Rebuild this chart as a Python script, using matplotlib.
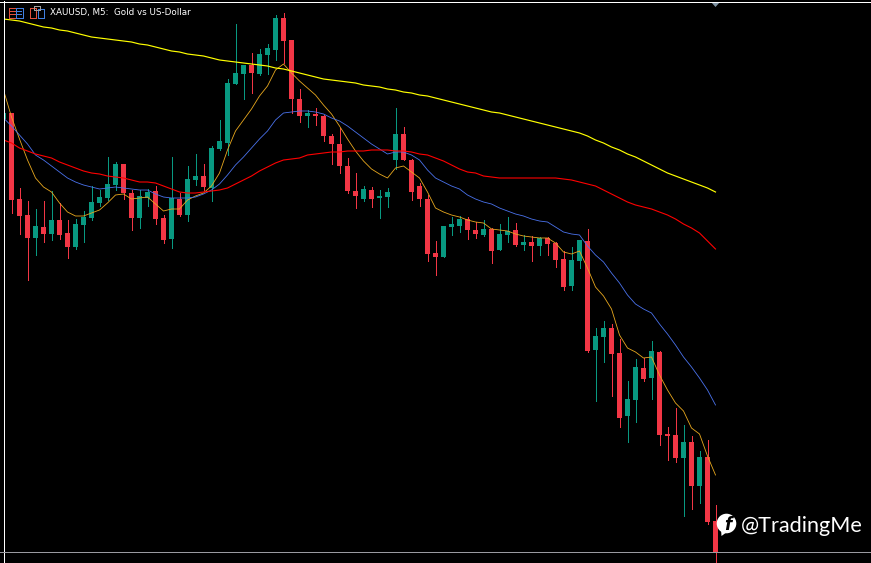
import matplotlib
matplotlib.use("Agg")
import matplotlib.pyplot as plt
from matplotlib.patches import Rectangle, Circle, Polygon
import numpy as np

W, H = 871, 563
# All series are levels on the chart's unlabeled price scale.
opens = [119,113,199,215,238,227,234,220,233,247,225,218,203,198,185,164,193,218,198,191,218,239,199,215,180,176,188,149,143,84,
         74,65,74,55,50,18,40,99,116,114,116,136,144,166,191,199,190,198,197,160,134,160,186,199,253,257,227,226,219,230,
         235,229,250,235,230,245,242,246,238,243,259,286,261,241,350,337,328,353,416,400,368,378,352,434,435,458,442,486,457,521]
closes = [113,200,216,238,226,234,220,235,247,224,217,202,197,184,164,193,218,196,192,219,240,198,215,179,176,187,148,141,83,73,
          65,73,54,48,18,41,99,116,113,116,136,144,166,191,196,189,199,196,192,134,160,192,199,254,257,226,224,219,230,234,
          229,251,234,231,245,242,246,238,244,260,287,260,240,351,336,328,354,418,399,367,379,351,435,436,458,442,486,457,522,552]
highs = [113,113,188,201,209,201,191,203,220,219,211,186,190,157,162,164,190,190,189,186,215,157,193,166,154,164,146,120,79,24,
         65,53,49,44,15,13,40,89,110,108,115,134,128,158,173,186,187,190,188,108,127,159,183,195,241,226,217,216,217,222,
         220,228,224,217,223,235,236,237,237,242,251,247,240,229,328,321,324,339,381,359,358,341,351,427,408,425,436,451,440,505]
lows = [120,213,234,280,255,242,240,239,258,249,242,220,206,200,190,199,230,228,206,224,243,248,216,221,185,190,201,150,155,84,
        99,93,75,74,60,63,113,122,127,125,141,164,173,193,208,201,207,218,207,169,160,200,206,261,275,257,235,232,239,238,
        236,263,250,242,246,250,261,255,255,267,290,290,268,352,401,362,396,427,442,422,381,399,445,460,462,516,509,503,524,563]

ma_fast = [90,117,139,160,178,187,192,203,212,216,216,213,210,203,195,194,199,198,197,204,211,209,209,200,196,193,186,173,150,131,
           120,109,96,86,70,64,73,81,88,95,105,114,126,139,151,161,169,174,178,168,166,172,178,192,208,212,215,217,220,222,
           223,229,230,231,234,236,237,238,238,243,252,254,251,268,287,296,309,335,348,352,358,357,375,390,403,411,428,434,456,475]
ma_mid = [118,126,135,144,155,160,166,172,178,182,185,187,189,188,187,188,189,190,190,194,197,198,198,198,197,194,190,184,175,165,
          157,148,139,131,120,113,112,111,111,112,114,118,121,126,132,138,144,149,154,152,152,155,160,170,178,182,186,189,195,199,
          202,204,208,211,214,216,219,221,222,227,232,234,235,246,255,262,273,283,295,304,309,313,324,334,345,357,367,378,390,405]
ma_slow = [140,143,148,151,154,156,158,162,165,168,171,173,174,176,177,178,180,182,182,183,186,189,192,193,193,192,191,190,188,184,
           180,176,171,167,163,160,159,158,155,154,153,152,152,151,151,151,150,150,150,151,151,152,154,155,158,161,165,169,172,173,
           176,177,178,178,178,178,178,178,178,178,179,180,182,184,186,190,194,198,202,205,207,209,212,215,219,224,228,233,241,249]
ma_long = [19,20,21,23,25,27,28,30,31,33,35,37,38,39,40,41,42,44,45,47,49,51,52,54,55,56,58,60,61,62,
           63,64,65,66,68,69,71,73,75,77,79,80,81,82,83,85,86,87,89,90,92,93,95,96,98,100,102,104,106,108,
           110,112,113,115,117,119,121,123,125,127,129,131,133,136,140,143,147,150,154,157,161,165,169,173,176,179,182,185,188,192]

title_text = "XAUUSD, M5:  Gold vs US-Dollar"
watermark = "@TradingMe"
BULL, BEAR = "#089981", "#F23645"

fig = plt.figure(figsize=(W/100, H/100), dpi=100, facecolor="black")
ax = fig.add_axes([0, 0, 1, 1], facecolor="black")
ax.set_xlim(-3.5/8, (W-3.5)/8)
ax.set_ylim(H, 0)
ax.axis("off")

idx = np.arange(len(opens))
o, c, hi, lo = map(np.array, (opens, closes, highs, lows))
col = [BULL if a > b else BEAR for a, b in zip(o, c)]

left_clip = Rectangle((-3.5/8+4/8, 0), (W-4)/8, H, transform=ax.transData)
vl = ax.vlines(idx, hi, lo, colors=col, linewidth=0.72, antialiased=False, zorder=2)
vl.set_clip_path(left_clip)
bars = ax.bar(idx, np.abs(o-c), bottom=np.minimum(o, c), width=5.5/8, color=col, linewidth=0, antialiased=False, zorder=3)
for b in bars:
    b.set_clip_path(left_clip)

for series, colour, lw in ((ma_fast, "#E8A81E", 0.6), (ma_mid, "#4A72EC", 0.6),
                           (ma_slow, "#FF0000", 0.8), (ma_long, "#FFFF00", 0.85)):
    ln, = ax.plot(idx, series, color=colour, linewidth=lw, zorder=4)
    ln.set_clip_path(left_clip)

# frame: white left and top, grey bottom price line, shift marker
T = fig.transFigure
def fx(x): return x / W
def fy(y): return 1 - y / H
def hline(x0, x1, y, colour, lw=0.5):
    fig.add_artist(plt.Line2D([fx(x0), fx(x1)], [fy(y), fy(y)], color=colour, lw=lw, antialiased=False))
fig.add_artist(plt.Line2D([fx(3.5), fx(3.5)], [fy(1), fy(H)], color="white", lw=0.5, antialiased=False))
hline(0, W, 1.5, "white")
hline(0, W, 551.5, "#9A9AA0")
fig.add_artist(Polygon([(fx(711), fy(2)), (fx(720), fy(2)), (fx(715.5), fy(7))], closed=True, color="#7F93A3", lw=0, transform=T))

# toolbar icons
def rect(x, y, w, h, ec, fc="none"):
    fig.add_artist(Rectangle((fx(x), fy(y+h)), w/W, h/H, transform=T, ec=ec, fc=fc, lw=0.5, antialiased=False))
rect(8.5, 7.5, 7, 10, "#E0503C"); rect(15.5, 7.5, 7, 10, "#3F7FE0")
for yy in (10.5, 13.5):
    hline(10, 15, yy, "#E0503C"); hline(16, 21, yy, "#3F7FE0")
rect(29.5, 8.5, 6, 9, "#E0503C"); rect(37.5, 9.5, 6, 8, "#3F7FE0"); rect(33.5, 6.5, 6, 3, "#A0A0A0")

fig.text(fx(49.5), fy(12.5), title_text, color="white", fontsize=6.35, family="DejaVu Sans", va="center", ha="left")

# watermark
icon = fig.add_axes([716/W, 1-537/H, 21/W, 24/H], facecolor="none")
icon.set_xlim(0, 21); icon.set_ylim(24, 0); icon.axis("off")
icon.add_patch(Circle((10.5, 10.5), 9.8, color="white", lw=0))
icon.add_patch(Polygon([(5, 16), (5.5, 23), (11, 19)], closed=True, color="white", lw=0))
icon.text(11.5, 11.5, "f", color="black", fontsize=12, fontweight="bold", family="DejaVu Sans", ha="center", va="center", style="italic")
fig.text(fx(741), fy(525.5), watermark, color="white", fontsize=15.6, family="Lato", va="center", ha="left")

fig.savefig("out.png", dpi=100, facecolor="black")
